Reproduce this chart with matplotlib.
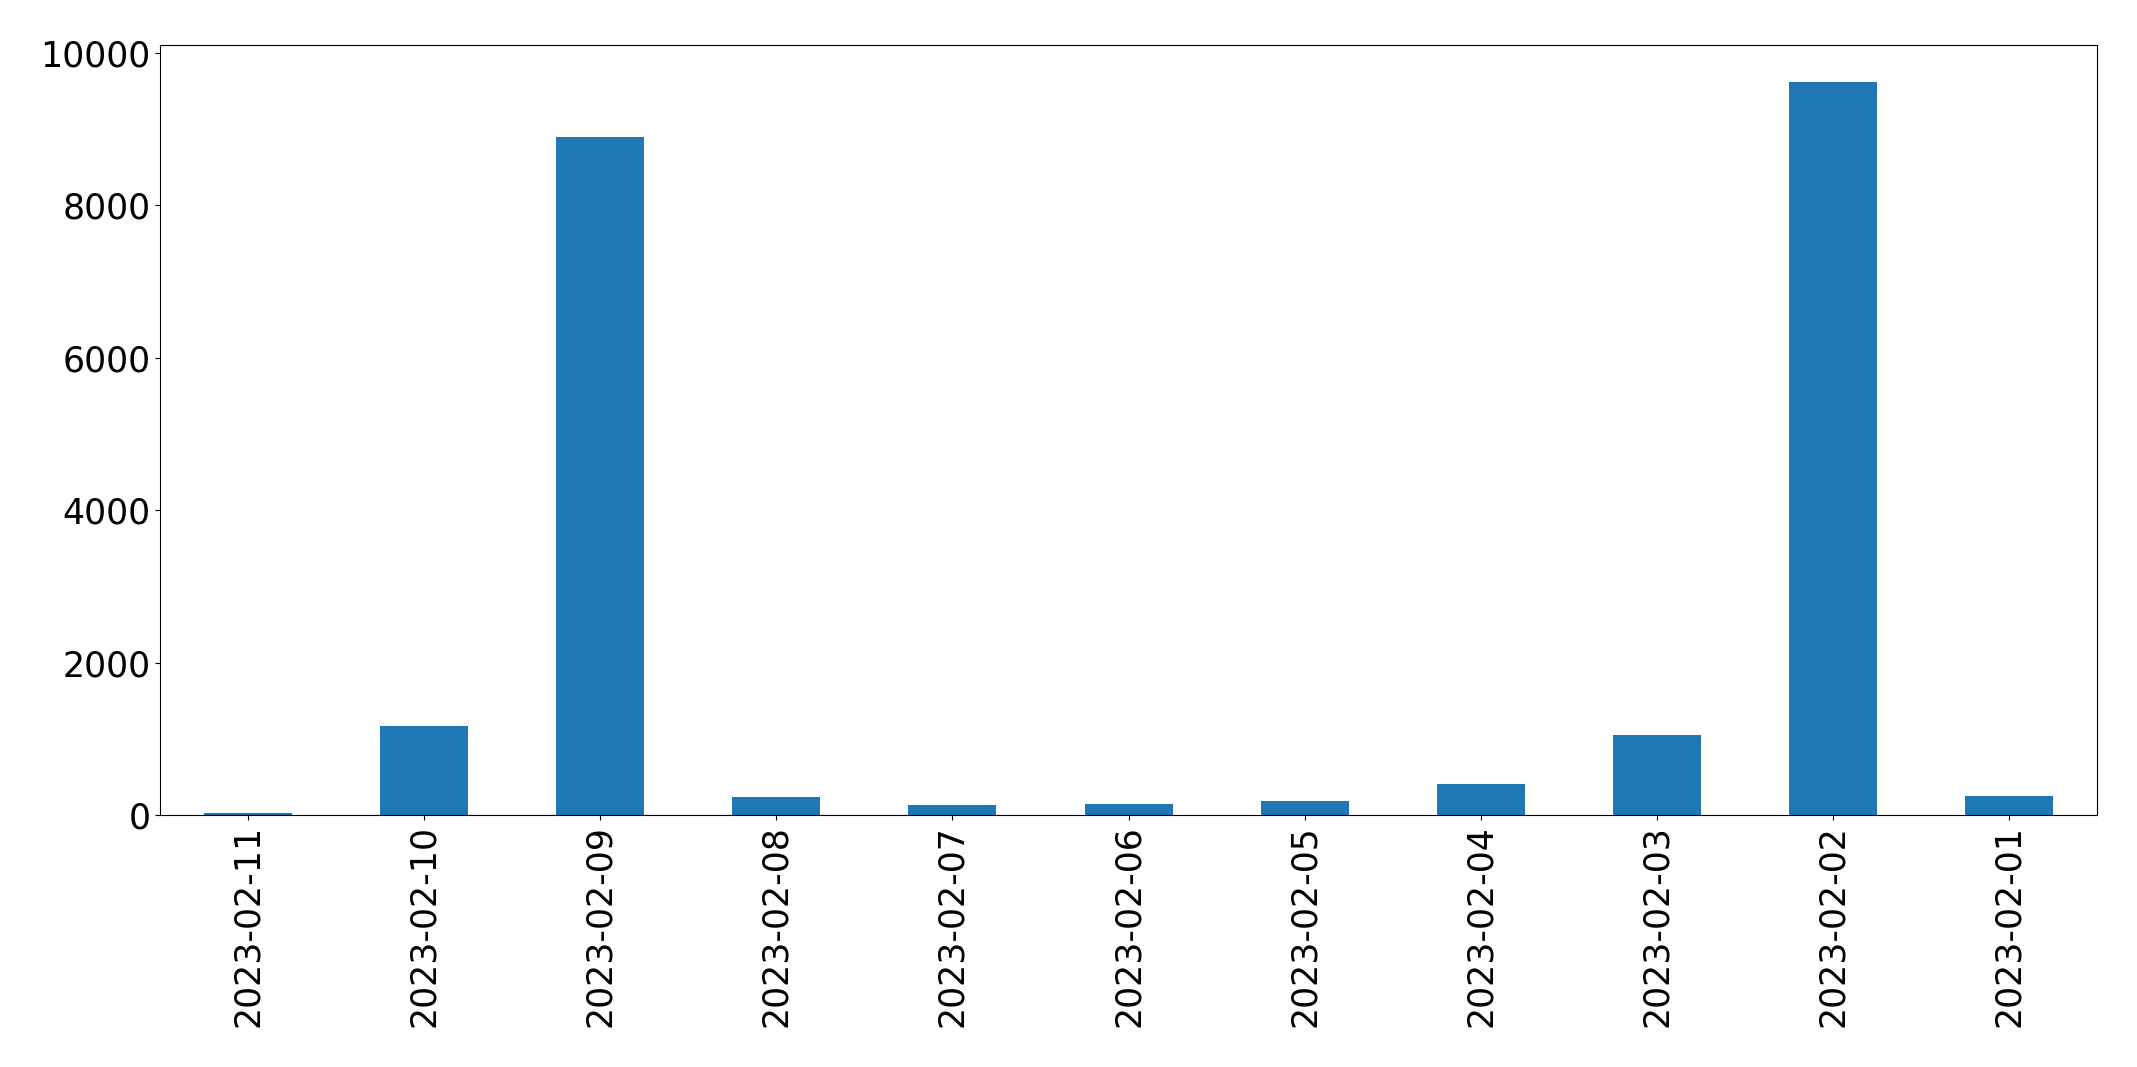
import matplotlib
matplotlib.use("Agg")
import matplotlib.pyplot as plt
import pandas as pd

# --- Données ---
dates = ["2023-02-11", "2023-02-10", "2023-02-09", "2023-02-08", "2023-02-07",
         "2023-02-06", "2023-02-05", "2023-02-04", "2023-02-03", "2023-02-02",
         "2023-02-01"]
valeurs = [30, 1172, 8902, 240, 135, 148, 188, 411, 1054, 9624, 253]

serie = pd.Series(valeurs, index=dates)

fig = plt.figure(figsize=(21.37, 10.67), dpi=100)
ax = fig.add_axes([0.0749, 0.2359, 0.9064, 0.7221])
serie.plot(kind="bar", ax=ax, color="#1f77b4")

ax.tick_params(axis="both", labelsize=25)
ax.set_xlabel("")

fig.savefig("out.png", dpi=100)
